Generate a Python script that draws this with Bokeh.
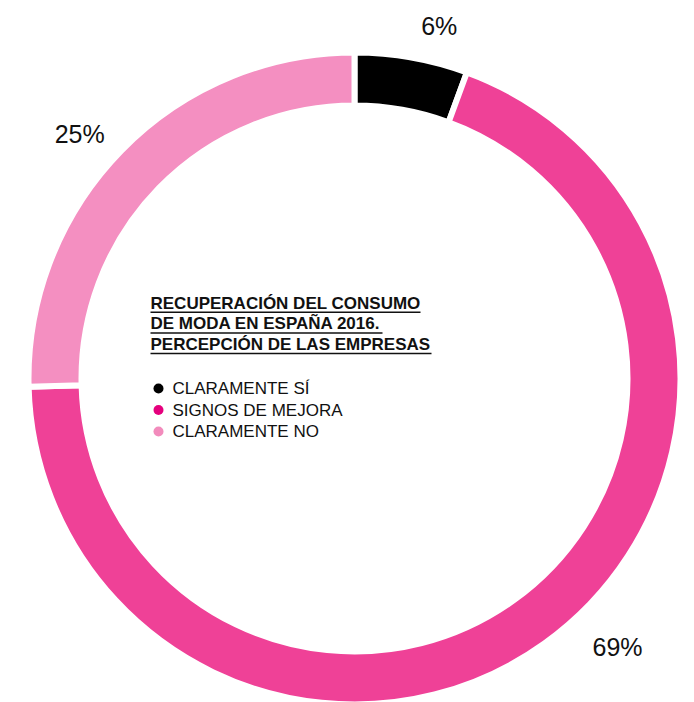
import math
from bokeh.plotting import figure
from bokeh.models import ColumnDataSource
from bokeh.core.properties import value
from bokeh.embed import file_html
from bokeh.resources import INLINE

# ---- data ----
categories = ["CLARAMENTE SÍ", "SIGNOS DE MEJORA", "CLARAMENTE NO"]
shares = [5.6, 69.0, 25.4]
pct_labels = ["6%", "69%", "25%"]
ring_colors = ["#000000", "#EF4197", "#F48FC1"]
legend_colors = ["#000000", "#E5007D", "#F28BBC"]
title_lines = ["RECUPERACIÓN DEL CONSUMO", "DE MODA EN ESPAÑA 2016.", "PERCEPCIÓN DE LAS EMPRESAS"]

# ---- layout (screen-pixel style) ----
W, H = 694, 702
def px(x):
    return x
def py(y):
    return H - y

CX, CY = px(354), py(378)
R_OUT, R_IN = 323, 276
GAP = 6
# label placement (angle deg, radius px) for each slice
label_place = [(76.5, 363), (-45.6, 376), (138.3, 368)]

p = figure(width=W, height=H, x_range=(0, W), y_range=(0, H),
           output_backend="svg", toolbar_location=None,
           min_border=0, outline_line_color=None)
p.axis.visible = False
p.grid.visible = False
p.background_fill_color = "white"
p.border_fill_color = "white"

total = sum(shares)
starts, ends = [], []
cum = 0.0
for s in shares:
    starts.append(math.pi / 2 - 2 * math.pi * cum / total)
    cum += s
    ends.append(math.pi / 2 - 2 * math.pi * cum / total)

src = ColumnDataSource(dict(start=starts, end=ends, color=ring_colors))
p.annular_wedge(x=CX, y=CY, inner_radius=R_IN - GAP / 2, outer_radius=R_OUT + GAP / 2,
                inner_radius_units="screen", outer_radius_units="screen",
                start_angle="start", end_angle="end", direction="clock",
                fill_color="color", line_color="white", line_width=GAP, source=src)

# percentage labels
lx = [CX + r * math.cos(math.radians(a)) for a, r in label_place]
ly = [CY + r * math.sin(math.radians(a)) for a, r in label_place]
p.text(x=lx, y=ly, text=pct_labels, text_font=value("Liberation Sans"),
       text_font_size="25px", text_color="#111111",
       text_align="center", text_baseline="middle")

# title with underlines
tx = px(150)
tmid = [py(302.5), py(323), py(344)]
tunder = [py(311.7), py(332.5), py(353)]
twidth = [270, 232, 281]
p.text(x=[tx] * 3, y=tmid, text=title_lines, text_font=value("Liberation Sans"),
       text_font_size="17px", text_font_style="bold", text_color="#111111",
       text_align="left", text_baseline="middle")
p.segment(x0=[tx] * 3, y0=tunder, x1=[tx + w for w in twidth],
          y1=tunder, line_color="#111111", line_width=1.5)

# legend
ly_leg = [py(388), py(409.5), py(431)]
p.scatter(x=[px(158)] * 3, y=ly_leg, size=10, marker="circle",
          fill_color=legend_colors, line_color=None)
p.text(x=[px(172)] * 3, y=ly_leg, text=categories, text_font=value("Liberation Sans"),
       text_font_size="17px", text_color="#111111",
       text_align="left", text_baseline="middle")

open("out.html", "w").write(file_html(p, INLINE))
